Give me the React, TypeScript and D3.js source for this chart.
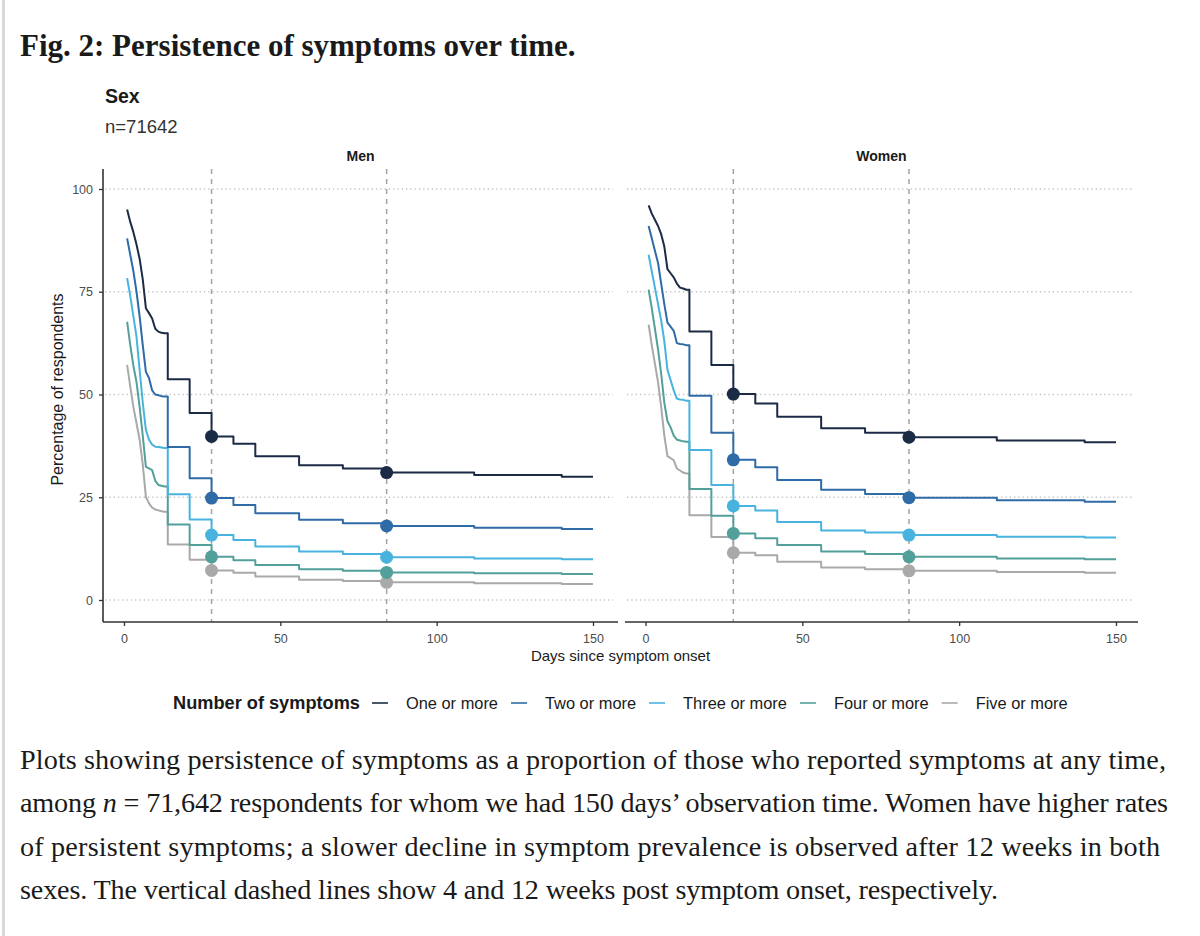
import { useEffect, useRef } from 'react';
import * as d3 from 'd3';

// days at which the curves step (daily first two weeks, then the weekly/monthly steps)
const DAYS = [1, 2, 3, 4, 5, 6, 7, 8, 9, 10, 11, 12, 13, 14, 21, 28, 35, 42, 56, 70, 84, 112, 140, 150];

const MEN_ONE = [95, 92, 89.5, 86.5, 83, 78, 71, 69.8, 68.5, 66, 65.3, 65, 64.9, 53.7, 45.5, 39.8, 38.0, 35.0, 32.8, 32.0, 31.0, 30.4, 30.0, 30.0];
const MEN_TWO = [88, 84, 80, 75, 69, 62, 55.5, 54, 51, 50, 49.8, 49.6, 49.5, 37.2, 29.6, 24.8, 23.1, 21.1, 19.5, 18.7, 18.0, 17.6, 17.3, 17.3];
const MEN_THREE = [78.3, 74, 69, 64, 56, 48, 41.4, 39, 37.8, 37.3, 37.2, 37.1, 37, 25.7, 19.6, 15.8, 14.6, 13.0, 11.8, 11.2, 10.4, 10.1, 9.9, 9.9];
const MEN_FOUR = [67.7, 62, 57, 53, 47, 40, 32.4, 32, 31.6, 29, 28, 27.8, 27.6, 18.4, 13.4, 10.5, 9.7, 8.5, 7.5, 7.1, 6.7, 6.5, 6.3, 6.3];
const MEN_FIVE = [57.2, 52, 47, 43, 39, 33, 25.1, 23.5, 22.5, 22, 21.8, 21.6, 21.5, 13.5, 9.8, 7.2, 6.6, 5.7, 4.9, 4.6, 4.3, 4.1, 3.9, 3.9];

const WOMEN_ONE = [96, 94, 92.5, 91, 89, 86, 80.5, 79.5, 78.5, 77, 76, 75.8, 75.5, 65.3, 57.2, 50.1, 47.8, 44.6, 41.8, 40.7, 39.6, 38.8, 38.4, 38.4];
const WOMEN_TWO = [91, 88, 85, 82, 77, 72, 67.5, 66.5, 65.5, 62.5, 62.3, 62.2, 62, 49.7, 40.7, 34.1, 32.3, 29.2, 26.8, 25.8, 24.9, 24.3, 23.9, 23.9];
const WOMEN_THREE = [84, 80, 76, 72, 68, 63, 56, 53.5, 51, 49, 48.8, 48.7, 48.5, 36.5, 28, 22.9, 21.8, 19.0, 16.9, 16.4, 15.8, 15.4, 15.2, 15.2];
const WOMEN_FOUR = [75.5, 71, 66, 61, 55, 48, 43.5, 42, 40, 39, 38.8, 38.6, 38.5, 27, 20.5, 16.2, 15.0, 13.4, 11.8, 11.2, 10.5, 10.1, 9.9, 9.9];
const WOMEN_FIVE = [67, 62, 57.5, 53, 47, 40, 35, 34.5, 34, 32, 31.5, 31, 30.8, 20.6, 15.3, 11.5, 10.9, 9.3, 7.9, 7.5, 7.1, 6.8, 6.6, 6.6];

const SERIES_LABELS = ['One or more', 'Two or more', 'Three or more', 'Four or more', 'Five or more'];
const SERIES_COLORS = ['#1c2b45', '#2f6ba6', '#48b3df', '#53a09b', '#a9a9a9'];
const MARKER_DAYS = [28, 84];
const X_TICKS = [0, 50, 100, 150];
const Y_TICKS = [0, 25, 50, 75, 100];

const PANEL_NAMES = ['Men', 'Women'];
const PANEL_SERIES = [
  [MEN_ONE, MEN_TWO, MEN_THREE, MEN_FOUR, MEN_FIVE],
  [WOMEN_ONE, WOMEN_TWO, WOMEN_THREE, WOMEN_FOUR, WOMEN_FIVE],
];

const TITLE = 'Fig. 2: Persistence of symptoms over time.';
const CAPTION_LINES = [
  ['Plots showing persistence of symptoms as a proportion of those who reported symptoms at any time,'],
  ['among ', 'n', ' = 71,642 respondents for whom we had 150 days\u2019 observation time. Women have higher rates'],
  ['of persistent symptoms; a slower decline in symptom prevalence is observed after 12 weeks in both'],
  ['sexes. The vertical dashed lines show 4 and 12 weeks post symptom onset, respectively.'],
];
// rendered width of each caption line in the page
const CAPTION_WIDTHS = [1146, 1148, 1140, 978];

const SANS = '"Liberation Sans", Arial, Helvetica, sans-serif';
const SERIF = '"Liberation Serif", "Times New Roman", serif';

// the first two weeks were reported daily, drawn as a running line; after that the curves step
const DAILY_END = DAYS.indexOf(13);

export default function App() {
  const svgRef = useRef<SVGSVGElement>(null);

  useEffect(() => {
    if (!svgRef.current) return;
    const svg = d3.select(svgRef.current);
    svg.selectAll('*').remove();

    svg.append('rect').attr('width', 1200).attr('height', 936).attr('fill', '#fff');
    svg.append('rect').attr('x', 2).attr('y', 0).attr('width', 3).attr('height', 936).attr('fill', '#d9d9d9');

    svg
      .append('text')
      .attr('x', 20)
      .attr('y', 56)
      .attr('font-family', SERIF)
      .attr('font-weight', 700)
      .attr('font-size', 31)
      .attr('fill', '#1a1a1a')
      .text(TITLE);

    svg
      .append('text')
      .attr('x', 105)
      .attr('y', 103)
      .attr('font-family', SANS)
      .attr('font-weight', 700)
      .attr('font-size', 19.5)
      .attr('fill', '#1a1a1a')
      .text('Sex');

    svg
      .append('text')
      .attr('x', 105)
      .attr('y', 133)
      .attr('font-family', SANS)
      .attr('font-size', 18.5)
      .attr('fill', '#333')
      .text('n=71642');

    const top = 169;
    const bottom = 622;
    const y = d3.scaleLinear().domain([0, 100]).range([600, 189]);

    const panels = [
      { x0: 103, x1: 618, x: d3.scaleLinear().domain([0, 150]).range([124, 593]) },
      { x0: 625, x1: 1138, x: d3.scaleLinear().domain([0, 150]).range([645.5, 1116]) },
    ];

    panels.forEach((p, pi) => {
      const g = svg.append('g');
      const x = p.x;

      // dotted horizontal grid
      g.selectAll('.grid')
        .data(Y_TICKS)
        .enter()
        .append('line')
        .attr('x1', p.x0 + 2)
        .attr('x2', p.x1 - 5)
        .attr('y1', (d) => y(d))
        .attr('y2', (d) => y(d))
        .attr('stroke', '#c4c4c4')
        .attr('stroke-width', 1.3)
        .attr('stroke-dasharray', '1.3,3');

      // 4 and 12 week markers
      g.selectAll('.vline')
        .data(MARKER_DAYS)
        .enter()
        .append('line')
        .attr('x1', (d) => x(d))
        .attr('x2', (d) => x(d))
        .attr('y1', top)
        .attr('y2', bottom)
        .attr('stroke', '#a3a3a3')
        .attr('stroke-width', 1.5)
        .attr('stroke-dasharray', '5,5');

      const dailyLine = d3
        .line<number>()
        .x((_, i) => x(DAYS[i]))
        .y((d) => y(d));
      const stepLine = d3
        .line<number>()
        .x((_, i) => x(DAYS[i + DAILY_END]))
        .y((d) => y(d))
        .curve(d3.curveStepAfter);

      const series = PANEL_SERIES[pi];
      for (let s = series.length - 1; s >= 0; s--) {
        const vals = series[s];
        const d = (dailyLine(vals.slice(0, DAILY_END + 1)) ?? '') + (stepLine(vals.slice(DAILY_END)) ?? '').replace(/^M/, 'L');
        g.append('path')
          .attr('d', d)
          .attr('fill', 'none')
          .attr('stroke', SERIES_COLORS[s])
          .attr('stroke-width', 2)
          .attr('stroke-linejoin', 'round');
      }
      for (let s = series.length - 1; s >= 0; s--) {
        g.selectAll(null)
          .data(MARKER_DAYS)
          .enter()
          .append('circle')
          .attr('cx', (d) => x(d))
          .attr('cy', (d) => y(series[s][DAYS.indexOf(d)]))
          .attr('r', 6.5)
          .attr('fill', SERIES_COLORS[s]);
      }

      // x axis
      g.append('line')
        .attr('x1', p.x0)
        .attr('x2', p.x1)
        .attr('y1', bottom)
        .attr('y2', bottom)
        .attr('stroke', '#333')
        .attr('stroke-width', 1.6);

      const xAxis = g
        .append('g')
        .attr('transform', `translate(0,${bottom})`)
        .call(d3.axisBottom(x).tickValues(X_TICKS).tickSize(4).tickSizeOuter(0).tickPadding(8));
      xAxis.select('.domain').remove();
      xAxis.selectAll('line').attr('stroke', '#333').attr('stroke-width', 1.3);
      xAxis
        .selectAll('text')
        .attr('font-family', SANS)
        .attr('font-size', 12.5)
        .attr('fill', '#4d4d4d');

      g.append('text')
        .attr('x', (p.x0 + p.x1) / 2)
        .attr('y', 161)
        .attr('text-anchor', 'middle')
        .attr('font-family', SANS)
        .attr('font-weight', 700)
        .attr('font-size', 14)
        .attr('fill', '#1a1a1a')
        .text(PANEL_NAMES[pi]);

      if (pi === 0) {
        g.append('line')
          .attr('x1', p.x0)
          .attr('x2', p.x0)
          .attr('y1', top)
          .attr('y2', bottom)
          .attr('stroke', '#333')
          .attr('stroke-width', 1.6);
        const yAxis = g
          .append('g')
          .attr('transform', `translate(${p.x0},0)`)
          .call(d3.axisLeft(y).tickValues(Y_TICKS).tickSize(4).tickSizeOuter(0).tickPadding(6));
        yAxis.select('.domain').remove();
        yAxis.selectAll('line').attr('stroke', '#333').attr('stroke-width', 1.3);
        yAxis
          .selectAll('text')
          .attr('font-family', SANS)
          .attr('font-size', 12.5)
          .attr('fill', '#4d4d4d');
      }
    });

    svg
      .append('text')
      .attr('transform', `translate(63,${(top + bottom) / 2 - 6}) rotate(-90)`)
      .attr('text-anchor', 'middle')
      .attr('font-family', SANS)
      .attr('font-size', 16)
      .attr('fill', '#1a1a1a')
      .text('Percentage of respondents');

    svg
      .append('text')
      .attr('x', (panels[0].x0 + panels[1].x1) / 2)
      .attr('y', 661)
      .attr('text-anchor', 'middle')
      .attr('font-family', SANS)
      .attr('font-size', 15)
      .attr('fill', '#1a1a1a')
      .text('Days since symptom onset');

    // legend
    const legendY = 703;
    const legend = svg.append('g');
    const legendTitle = legend
      .append('text')
      .attr('x', 173)
      .attr('y', legendY + 6)
      .attr('font-family', SANS)
      .attr('font-weight', 700)
      .attr('font-size', 18.2)
      .attr('fill', '#1a1a1a')
      .text('Number of symptoms');
    let cursor = 173 + (legendTitle.node()?.getComputedTextLength() ?? 180) + 12;
    SERIES_LABELS.forEach((label, i) => {
      legend
        .append('line')
        .attr('x1', cursor)
        .attr('x2', cursor + 16)
        .attr('y1', legendY)
        .attr('y2', legendY)
        .attr('stroke', SERIES_COLORS[i])
        .attr('stroke-width', 1.6);
      const t = legend
        .append('text')
        .attr('x', cursor + 34)
        .attr('y', legendY + 6)
        .attr('font-family', SANS)
        .attr('font-size', 16.4)
        .attr('fill', '#1a1a1a')
        .text(label);
      cursor += 34 + (t.node()?.getComputedTextLength() ?? 90) + 13;
    });

    // caption
    CAPTION_LINES.forEach((parts, i) => {
      const t = svg
        .append('text')
        .attr('x', 20)
        .attr('y', 769 + i * 43.3)
        .attr('font-family', SERIF)
        .attr('font-size', 28.2)
        .attr('fill', '#1a1a1a')
        .attr('textLength', CAPTION_WIDTHS[i])
        .attr('lengthAdjust', 'spacing');
      parts.forEach((part) => {
        t.append('tspan')
          .attr('font-style', part === 'n' ? 'italic' : 'normal')
          .text(part);
      });
    });
  }, []);

  return (
    <div style={{ position: 'absolute', left: 0, top: 0 }}>
      <svg ref={svgRef} width={1200} height={936} style={{ display: 'block' }} />
    </div>
  );
}
